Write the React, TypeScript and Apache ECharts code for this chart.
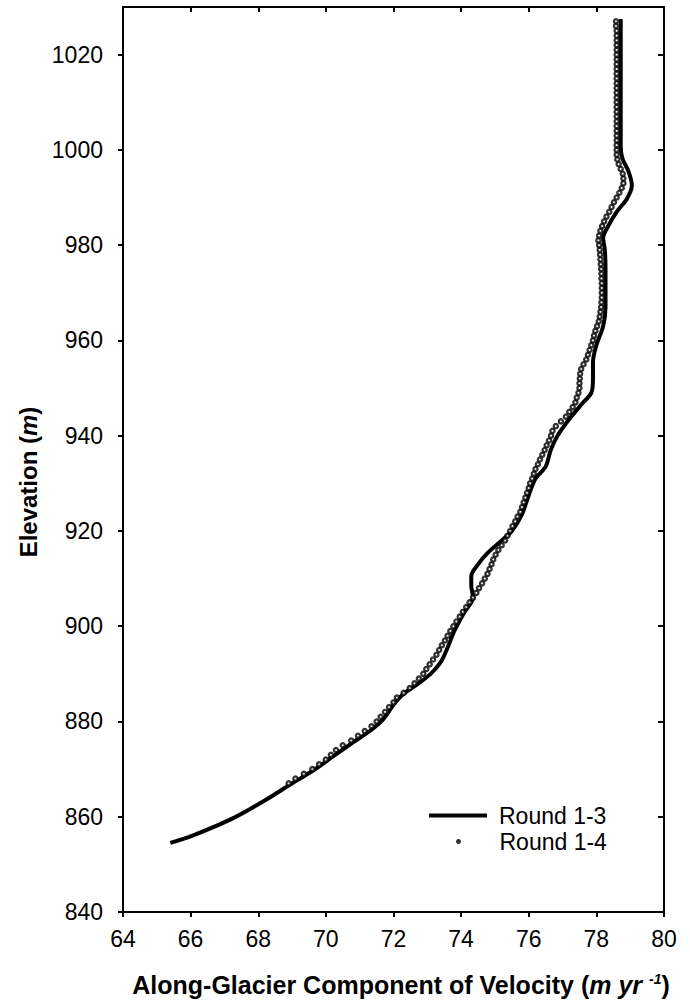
import React, { useEffect, useRef } from "react";
import * as echarts from "echarts";

const FONT = "'Liberation Sans', Arial, Helvetica, sans-serif";

// Round 1-3 (solid line): velocity (m/yr) and elevation (m)
const ROUND13_VEL = [
  65.4, 66.0, 66.6, 67.2, 67.8, 68.4, 69.0, 69.6, 70.2, 70.8, 71.3, 71.7, 72.0, 72.3, 72.7,
  73.1, 73.4, 73.6, 73.8, 74.1, 74.35, 74.3, 74.3, 74.5, 74.8, 75.2, 75.5, 75.8, 76.0, 76.2,
  76.5, 76.65, 76.85, 77.2, 77.55, 77.85, 77.9, 77.9, 78.0, 78.2, 78.27, 78.27, 78.25, 78.2,
  78.35, 78.6, 78.9, 79.05, 78.95, 78.78, 78.72, 78.72,
];
const ROUND13_ELEV = [
  854.5, 855.9, 857.6, 859.5, 861.8, 864.3, 867.0, 869.6, 872.6, 875.6, 878.0, 880.5, 883.5, 885.8, 887.8,
  890.0, 892.5, 895.5, 899.0, 903.0, 906.0, 908.5, 910.5, 913.0, 915.5, 918.0, 920.0, 923.5, 927.5, 931.0,
  933.5, 937.0, 940.0, 943.5, 946.5, 949.0, 952.0, 955.5, 959.0, 963.0, 967.0, 975.0, 979.0, 981.5,
  984.0, 987.0, 989.7, 992.5, 995.5, 998.0, 1000.5, 1027.5,
];

// Round 1-4 (dots): velocity (m/yr) and elevation (m)
const ROUND14_ELEV = [
  867, 868, 869, 870, 871, 872, 873, 874, 875, 876, 877, 878, 879, 880, 881, 882, 883, 884, 885, 886,
  887, 888, 889, 890, 891, 892, 893, 894, 895, 896, 897, 898, 899, 900, 901, 902, 903, 904, 905, 906,
  907, 908, 909, 910, 911, 912, 913, 914, 915, 916, 917, 918, 919, 920, 921, 922, 923, 924, 925, 926,
  927, 928, 929, 930, 931, 932, 933, 934, 935, 936, 937, 938, 939, 940, 941, 942, 943, 944, 945, 946,
  947, 948, 949, 950, 951, 952, 953, 954, 955, 956, 957, 958, 959, 960, 961, 962, 963, 964, 965, 966,
  967, 968, 969, 970, 971, 972, 973, 974, 975, 976, 977, 978, 979, 980, 981, 982, 983, 984, 985, 986,
  987, 988, 989, 990, 991, 992, 993, 994, 995, 996, 997, 998, 999, 1000, 1001, 1002, 1003, 1004, 1005, 1006,
  1007, 1008, 1009, 1010, 1011, 1012, 1013, 1014, 1015, 1016, 1017, 1018, 1019, 1020, 1021, 1022, 1023, 1024, 1025, 1026,
  1027,
];
const ROUND14_VEL = [
  68.9, 69.1, 69.35, 69.6, 69.8, 70.0, 70.15, 70.3, 70.5, 70.75, 70.95, 71.15, 71.35, 71.5, 71.62, 71.75, 71.87, 72.0, 72.1, 72.3,
  72.48, 72.62, 72.75, 72.88, 72.97, 73.07, 73.17, 73.27, 73.35, 73.43, 73.52, 73.6, 73.68, 73.77, 73.86, 73.96, 74.05, 74.15, 74.25, 74.35,
  74.45, 74.53, 74.62, 74.7, 74.78, 74.84, 74.9, 74.95, 75.02, 75.1, 75.2, 75.3, 75.37, 75.45, 75.52, 75.6, 75.67, 75.75, 75.8, 75.85,
  75.9, 75.95, 76.0, 76.04, 76.1, 76.15, 76.2, 76.27, 76.33, 76.4, 76.47, 76.53, 76.6, 76.66, 76.7, 76.8, 76.95, 77.1, 77.2, 77.3,
  77.38, 77.42, 77.47, 77.5, 77.5, 77.51, 77.52, 77.55, 77.62, 77.7, 77.75, 77.8, 77.85, 77.9, 77.93, 77.97, 78.02, 78.07, 78.1, 78.12,
  78.14, 78.15, 78.16, 78.16, 78.16, 78.16, 78.15, 78.15, 78.14, 78.13, 78.12, 78.11, 78.1, 78.08, 78.06, 78.08, 78.12, 78.17, 78.23, 78.3,
  78.38, 78.45, 78.52, 78.6, 78.68, 78.75, 78.8, 78.8, 78.78, 78.72, 78.66, 78.62, 78.6, 78.6, 78.6, 78.6, 78.6, 78.6, 78.6, 78.6,
  78.6, 78.6, 78.6, 78.6, 78.6, 78.6, 78.6, 78.6, 78.6, 78.6, 78.6, 78.6, 78.6, 78.6, 78.6, 78.6, 78.6, 78.6, 78.6, 78.58,
  78.58,
];

const X_MIN = 64;
const X_MAX = 80;
const X_STEP = 2;
const Y_MIN = 840;
const Y_MAX = 1030;
const Y_STEP = 20;

export default function App() {
  const ref = useRef<HTMLDivElement>(null);

  useEffect(() => {
    if (!ref.current) return;
    const chart = echarts.init(ref.current, undefined, { renderer: "svg" });

    const axisLine = { show: true, onZero: false, lineStyle: { color: "#000", width: 2 } };
    const tickStyle = { color: "#000", width: 2 };
    const plain = (v: number) => String(v);

    const option: any = {
      animation: false,
      backgroundColor: "#fff",
      grid: { left: 123, right: 26, top: 7, bottom: 92, containLabel: false },
      xAxis: [
        {
          type: "value",
          position: "bottom",
          min: X_MIN,
          max: X_MAX,
          interval: X_STEP,
          axisLine,
          axisTick: { show: true, inside: false, length: 5, lineStyle: tickStyle },
          axisLabel: { fontSize: 23, color: "#000", margin: 15, fontFamily: FONT, formatter: plain },
          splitLine: { show: false },
        },
        {
          type: "value",
          position: "top",
          min: X_MIN,
          max: X_MAX,
          interval: X_STEP,
          axisLine,
          axisTick: { show: true, inside: true, length: 5, lineStyle: tickStyle },
          axisLabel: { show: false },
          splitLine: { show: false },
        },
      ],
      yAxis: [
        {
          type: "value",
          position: "left",
          min: Y_MIN,
          max: Y_MAX,
          interval: Y_STEP,
          axisLine,
          axisTick: { show: true, inside: false, length: 5, lineStyle: tickStyle },
          axisLabel: {
            fontSize: 23,
            color: "#000",
            margin: 20,
            fontFamily: FONT,
            showMaxLabel: false,
            formatter: plain,
          },
          splitLine: { show: false },
        },
        {
          type: "value",
          position: "right",
          min: Y_MIN,
          max: Y_MAX,
          interval: Y_STEP,
          axisLine,
          axisTick: { show: true, inside: true, length: 6, lineStyle: tickStyle },
          axisLabel: { show: false },
          splitLine: { show: false },
        },
      ],
      legend: [
        {
          data: [{ name: "Round 1-3", icon: "rect" }],
          left: 429,
          top: 804,
          padding: 0,
          itemWidth: 58,
          itemHeight: 4,
          selectedMode: false,
          itemStyle: { color: "#000" },
          textStyle: { fontSize: 23, color: "#000", fontFamily: FONT, padding: [0, 0, 0, 7] },
        },
        {
          data: [{ name: "Round 1-4", icon: "circle" }],
          left: 456,
          top: 830,
          padding: 0,
          itemWidth: 58,
          itemHeight: 5,
          selectedMode: false,
          itemStyle: { color: "#000", borderWidth: 0 },
          textStyle: { fontSize: 23, color: "#000", fontFamily: FONT, padding: [0, 0, 0, 7] },
        },
      ],
      series: [
        {
          name: "Round 1-3",
          type: "line",
          xAxisIndex: 0,
          yAxisIndex: 0,
          data: ROUND13_VEL.map((v, i) => [v, ROUND13_ELEV[i]]),
          showSymbol: false,
          symbol: "none",
          smooth: 0.3,
          lineStyle: { color: "#000", width: 4 },
          itemStyle: { color: "#000" },
          z: 2,
        },
        {
          name: "Round 1-4",
          type: "scatter",
          xAxisIndex: 0,
          yAxisIndex: 0,
          data: ROUND14_VEL.map((v, i) => [v, ROUND14_ELEV[i]]),
          symbol: "circle",
          symbolSize: 4.2,
          itemStyle: { color: "#fff", borderColor: "#000", borderWidth: 2.3 },
          z: 3,
        },
      ],
      graphic: [
        {
          type: "text",
          x: 28,
          y: 482,
          rotation: Math.PI / 2,
          style: {
            text: "{b|Elevation (}{i|m}{b|)}",
            align: "center",
            verticalAlign: "middle",
            rich: {
              b: { fontSize: 24, fontWeight: "bold", fontFamily: FONT, fill: "#000" },
              i: { fontSize: 24, fontWeight: "bold", fontStyle: "italic", fontFamily: FONT, fill: "#000" },
            },
          },
        },
        {
          type: "text",
          x: 401,
          y: 985,
          style: {
            text: "{b|Along-Glacier Component of Velocity (}{i|m yr }{s|-1}{b|)}",
            align: "center",
            verticalAlign: "middle",
            rich: {
              b: { fontSize: 25, fontWeight: "bold", fontFamily: FONT, fill: "#000" },
              i: { fontSize: 25, fontWeight: "bold", fontStyle: "italic", fontFamily: FONT, fill: "#000" },
              s: {
                fontSize: 14,
                fontWeight: "bold",
                fontStyle: "italic",
                fontFamily: FONT,
                fill: "#000",
                verticalAlign: "top",
                padding: [0, 0, 12, 0],
              },
            },
          },
        },
      ],
    };

    chart.setOption(option);
    return () => chart.dispose();
  }, []);

  return <div ref={ref} style={{ width: 690, height: 1004, position: "absolute", left: 0, top: 0 }} />;
}
